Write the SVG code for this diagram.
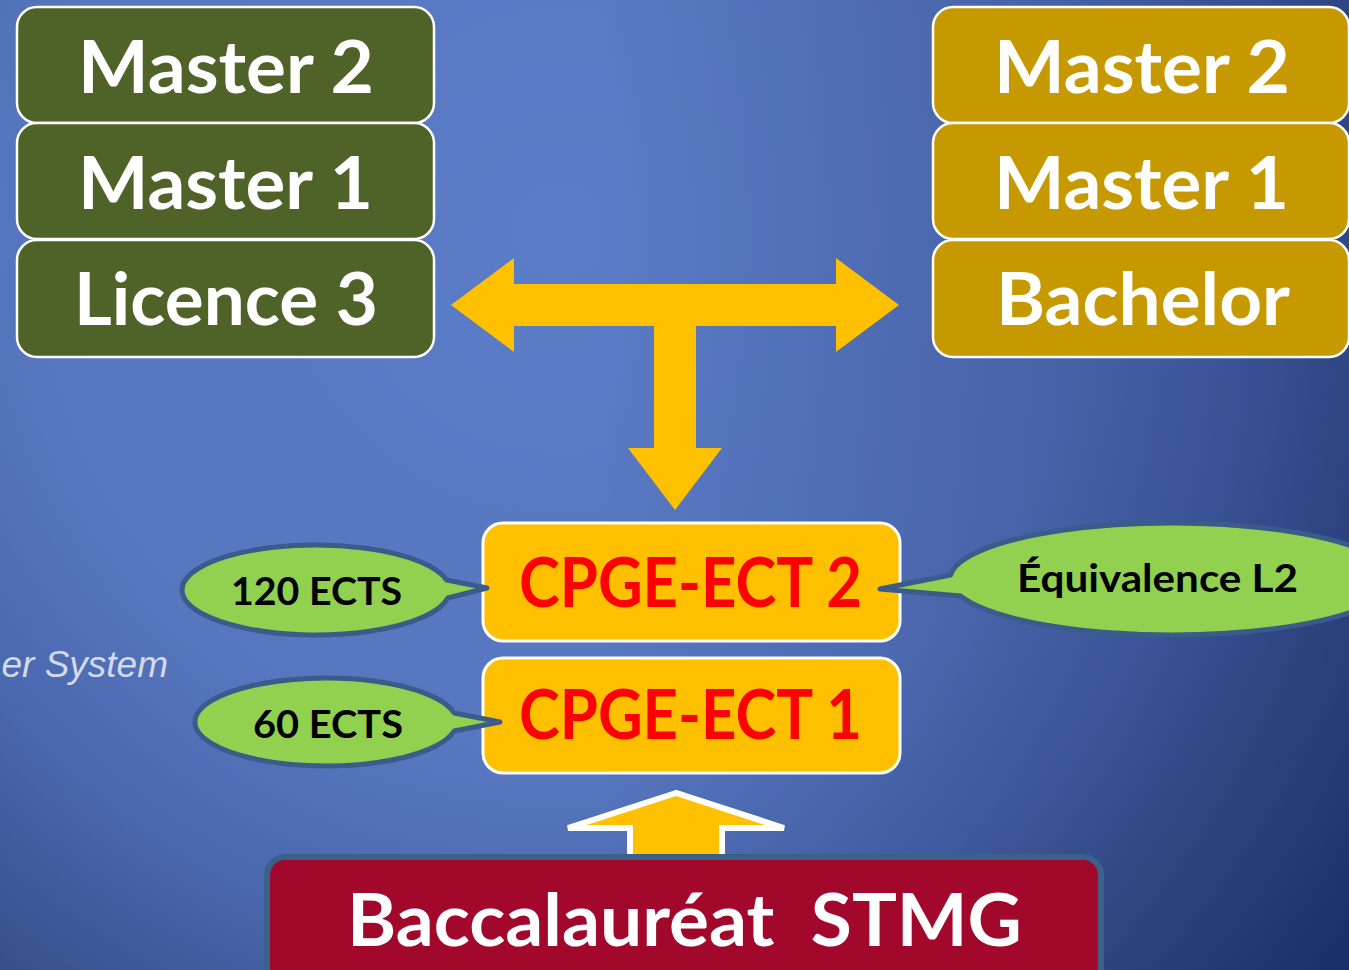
<svg xmlns="http://www.w3.org/2000/svg" width="1349" height="970" viewBox="0 0 1349 970">
<defs>
<radialGradient id="bg" gradientUnits="userSpaceOnUse" cx="560" cy="230" r="1200">
<stop offset="0" stop-color="#5B7CC6"/>
<stop offset="0.45" stop-color="#5676BF"/>
<stop offset="0.6" stop-color="#4A68AE"/>
<stop offset="0.75" stop-color="#38538F"/>
<stop offset="0.9" stop-color="#223A78"/>
<stop offset="1" stop-color="#1A2F6B"/>
</radialGradient>
<linearGradient id="shade" gradientUnits="userSpaceOnUse" x1="600" y1="0" x2="1349" y2="0">
<stop offset="0" stop-color="#0B1850" stop-opacity="0"/>
<stop offset="1" stop-color="#0B1850" stop-opacity="0.35"/>
</linearGradient>
<style>
.t{font-family:Lato,"Open Sans","Liberation Sans",sans-serif;font-weight:bold;}
.green rect{fill:#4F6228;stroke:#FFFFFF;stroke-width:2.5;}
.gold rect{fill:#C79900;stroke:#FFFFFF;stroke-width:2.5;}
.big{font-size:72px;fill:#FFFFFF;}
.cp rect{fill:#FFC000;stroke:#FFFFFF;stroke-width:3;}
.cpt{font-size:68px;fill:#FF0000;}
.call path{fill:#92D050;stroke:#3B5B8B;stroke-width:5;stroke-linejoin:round;}
.ct{font-size:39px;fill:#000000;}
.arrow{fill:#FFC000;}
</style>
</defs>
<rect x="0" y="0" width="1349" height="970" fill="url(#bg)"/>
<rect x="0" y="0" width="1349" height="970" fill="url(#shade)"/>
<text x="168" y="677" text-anchor="end" font-family="Liberation Sans,Arial,sans-serif" font-style="italic" font-size="37" fill="#D4DAEA">er System</text>

<g id="connectors">
<polygon class="arrow" points="451,305 514,258 514,284 836,284 836,258 899,305 836,352 836,326 696,326 696,448 722,448 675,510 628,448 654,448 654,326 514,326 514,352"/>
<polygon points="676,793 568,828 630,828 630,866 722,866 722,828 784,828" fill="#FFC000" stroke="#FFFFFF" stroke-width="6" stroke-linejoin="miter"/>
</g>

<g id="left-m2" class="green"><rect x="17" y="7" width="417" height="116" rx="20"/><text class="t big" x="78" y="93" textLength="296" lengthAdjust="spacingAndGlyphs">Master 2</text></g>
<g id="left-m1" class="green"><rect x="17" y="123" width="417" height="116" rx="20"/><text class="t big" x="78" y="209" textLength="295" lengthAdjust="spacingAndGlyphs">Master 1</text></g>
<g id="left-l3" class="green"><rect x="17" y="240" width="417" height="117" rx="20"/><text class="t big" x="74" y="325" textLength="304" lengthAdjust="spacingAndGlyphs">Licence 3</text></g>

<g id="right-m2" class="gold"><rect x="933" y="7" width="416" height="116" rx="20"/><text class="t big" x="994" y="93" textLength="296" lengthAdjust="spacingAndGlyphs">Master 2</text></g>
<g id="right-m1" class="gold"><rect x="933" y="123" width="416" height="116" rx="20"/><text class="t big" x="994" y="209" textLength="295" lengthAdjust="spacingAndGlyphs">Master 1</text></g>
<g id="right-bachelor" class="gold"><rect x="933" y="240" width="416" height="117" rx="20"/><text class="t big" x="996" y="325" textLength="294" lengthAdjust="spacingAndGlyphs">Bachelor</text></g>

<g id="cpge2" class="cp"><rect x="483" y="523" width="417" height="118" rx="20"/><text class="t cpt" x="519" y="607" textLength="343" lengthAdjust="spacingAndGlyphs">CPGE-ECT 2</text></g>
<g id="cpge1" class="cp"><rect x="483" y="658" width="417" height="115" rx="20"/><text class="t cpt" x="519" y="739" textLength="343" lengthAdjust="spacingAndGlyphs">CPGE-ECT 1</text></g>

<g id="call-120" class="call"><path d="M 446.7 580 A 134 45 0 1 0 447.9 598 L 487 588 Z"/><text class="t ct" x="231" y="605" textLength="171" lengthAdjust="spacingAndGlyphs">120 ECTS</text></g>
<g id="call-60" class="call"><path d="M 454.2 713 A 131 44 0 1 0 454.2 731 L 500 722 Z"/><text class="t ct" x="253" y="738" textLength="150" lengthAdjust="spacingAndGlyphs">60 ECTS</text></g>
<g id="call-eq" class="call"><path d="M 950.6 575 A 222 56 0 1 1 960.5 596 L 880 589 Z"/><text class="t ct" x="1017" y="592" textLength="281" lengthAdjust="spacingAndGlyphs">Équivalence L2</text></g>

<g id="bac"><rect x="267" y="857" width="834" height="140" rx="18" fill="#A1082B" stroke="#3B6089" stroke-width="6"/><text class="t" x="347" y="946" font-size="72" fill="#FFFFFF" textLength="675" lengthAdjust="spacingAndGlyphs" xml:space="preserve">Baccalauréat  STMG</text></g>
</svg>
